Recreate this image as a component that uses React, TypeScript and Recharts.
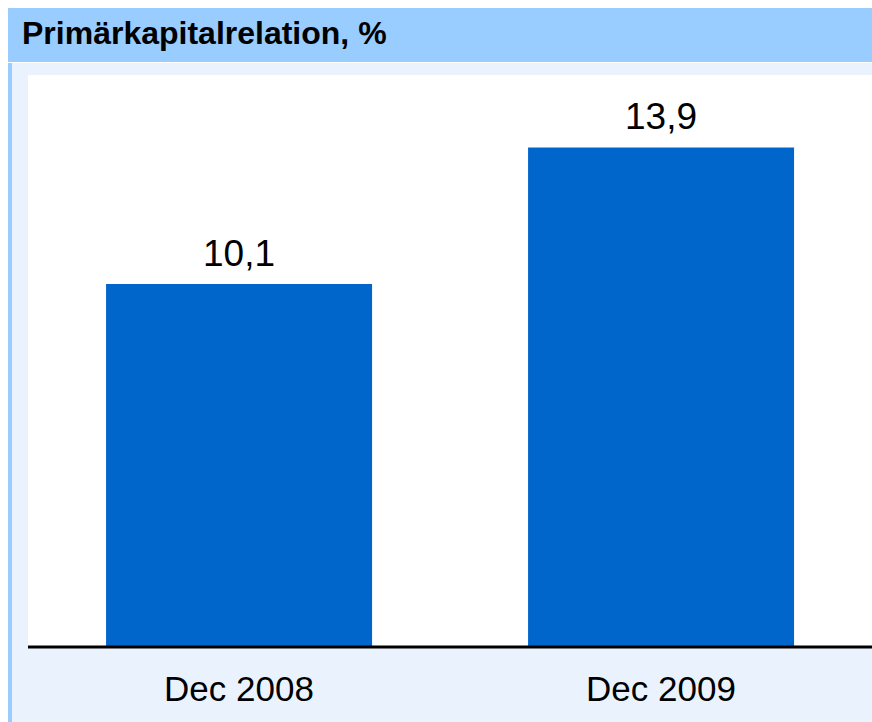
import React from "react";
import { BarChart, Bar, XAxis, YAxis, LabelList } from "recharts";

const categories = ["Dec 2008", "Dec 2009"];
const values = [10.1, 13.9];
const title = "Primärkapitalrelation, %";

const data = categories.map((c, i) => ({ name: c, value: values[i] }));

const FONT = "'Liberation Sans', Arial, sans-serif";

const Tick = (props: any) => {
  const { x, y, payload } = props;
  return (
    <text x={x} y={y + 46} textAnchor="middle" fontFamily={FONT} fontSize={35} fill="#000">
      {payload.value}
    </text>
  );
};

const ValueLabel = (props: any) => {
  const { x, y, width, value } = props;
  return (
    <text x={x + width / 2} y={y - 18} textAnchor="middle" fontFamily={FONT} fontSize={37} fill="#000">
      {String(value).replace(".", ",")}
    </text>
  );
};

export default function App() {
  return (
    <div
      style={{
        position: "fixed",
        left: 8,
        top: 8,
        width: 864,
        height: 714,
        fontFamily: FONT,
        overflow: "hidden",
      }}
    >
      <div
        style={{
          position: "absolute",
          left: 0,
          top: 0,
          width: 864,
          height: 54,
          background: "#99CCFF",
        }}
      >
        <div
          style={{
            position: "absolute",
            left: 14,
            top: 7,
            fontSize: 32,
            fontWeight: "bold",
            color: "#000",
            fontFamily: FONT,
            lineHeight: "37px",
          }}
        >
          {title}
        </div>
      </div>
      <div
        style={{
          position: "absolute",
          left: 0,
          top: 55,
          width: 864,
          height: 659,
          background: "#EAF3FD",
          borderLeft: "4px solid #99CCFF",
          boxSizing: "border-box",
        }}
      />
      <div
        style={{
          position: "absolute",
          left: 20,
          top: 67,
          width: 844,
          height: 572,
          background: "#FFFFFF",
        }}
      />
      <div style={{ position: "absolute", left: 0, top: 0 }}>
        <BarChart
          width={864}
          height={714}
          data={data}
          margin={{ top: 64, right: 0, bottom: 0, left: 20 }}
          barCategoryGap="18.5%"
        >
          <YAxis hide domain={[0, 16]} />
          <XAxis
            dataKey="name"
            height={75}
            axisLine={{ stroke: "#000", strokeWidth: 3 }}
            tickLine={false}
            tick={<Tick />}
            interval={0}
          />
          <Bar dataKey="value" fill="#0066CC" isAnimationActive={false}>
            <LabelList dataKey="value" content={<ValueLabel />} />
          </Bar>
        </BarChart>
      </div>
    </div>
  );
}
